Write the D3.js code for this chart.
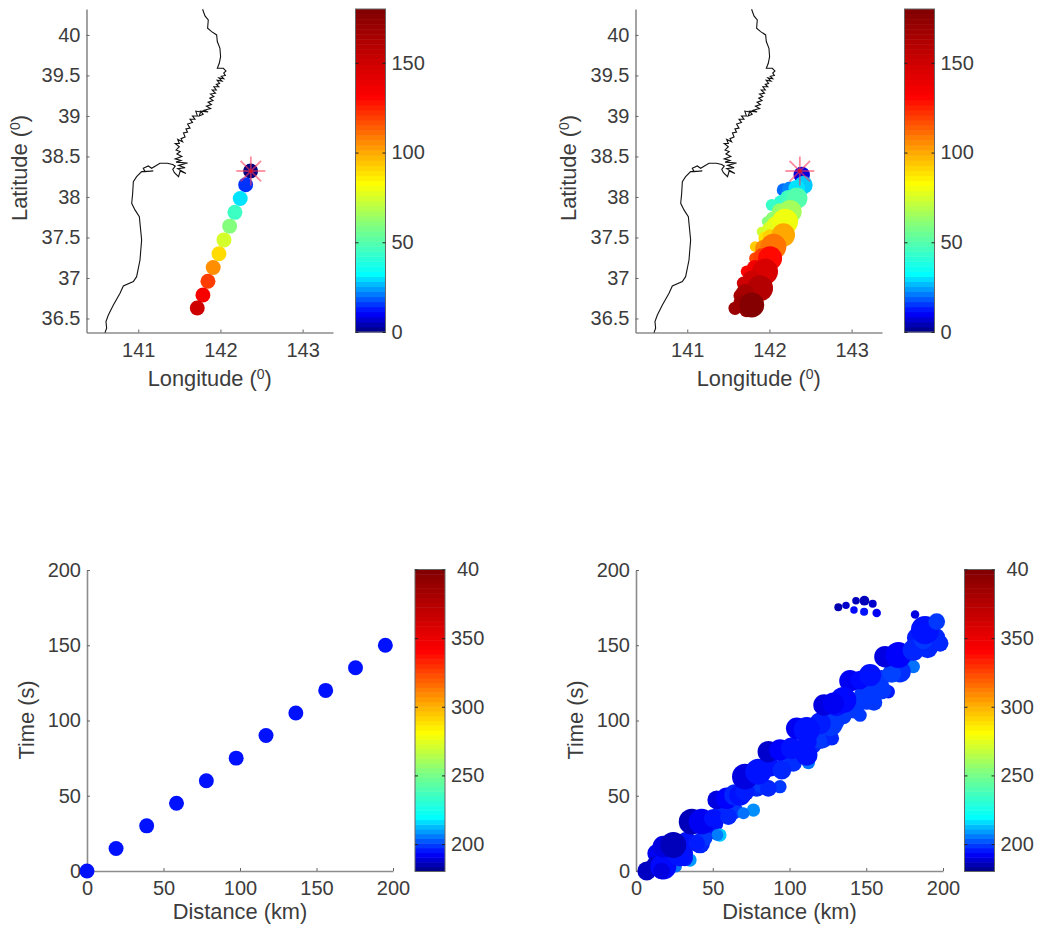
<!DOCTYPE html>
<html>
<head>
<meta charset="utf-8">
<script src="https://cdn.jsdelivr.net/npm/d3@7"></script>
<style>
  html, body { margin: 0; background: #fff; }
  text { font-family: "Liberation Sans", sans-serif; font-size: 20px; fill: #3c3c3c; }
  text.title { font-size: 21.8px; }
</style>
</head>
<body>
<div id="chart"></div>
<script>
// Coastline, longitude and latitude
const coastLon = [141.783,141.812,141.852,141.844,141.893,141.954,141.962,141.994,142.002,141.986,141.962,142.035,142.067,142.04,142.06,142.01,142.04,141.98,142.02,141.96,141.99,141.95,141.98,141.92,141.95,141.90,141.94,141.88,141.92,141.87,141.91,141.85,141.89,141.83,141.88,141.80,141.85,141.76,141.79,141.74,141.76,141.70,141.72,141.66,141.69,141.63,141.66,141.60,141.63,141.58,141.60,141.55,141.57,141.52,141.54,141.48,141.50,141.45,141.50,141.46,141.51,141.47,141.53,141.45,141.52,141.46,141.60,141.49,141.57,141.48,141.58,141.51,141.49,141.44,141.42,141.45,141.42,141.353,141.264,141.163,141.122,141.061,141.082,141.183,141.041,140.980,140.940,140.932,140.920,140.960,141.013,141.041,141.021,140.980,140.940,140.818,140.778,140.697,140.636,140.607,140.615,140.595];
const coastLat = [40.317,40.234,40.185,40.082,40.041,40.000,39.918,39.835,39.732,39.650,39.588,39.588,39.555,39.53,39.50,39.49,39.46,39.47,39.43,39.44,39.40,39.39,39.36,39.36,39.32,39.32,39.28,39.27,39.24,39.22,39.19,39.17,39.14,39.12,39.09,39.07,39.05,39.06,39.02,39.00,39.05,39.06,39.00,39.00,38.96,38.96,38.92,38.90,38.85,38.84,38.80,38.79,38.74,38.72,38.68,38.71,38.66,38.66,38.62,38.58,38.56,38.53,38.50,38.47,38.45,38.43,38.42,38.39,38.36,38.35,38.29,38.32,38.25,38.30,38.34,38.38,38.40,38.416,38.416,38.354,38.383,38.354,38.313,38.321,38.313,38.251,38.189,38.045,37.922,37.840,37.757,37.469,37.222,37.016,36.955,36.901,36.811,36.667,36.543,36.461,36.379,36.325];

// Epicentre
const starLon = 142.37;
const starLat = 38.32;

// Input model: top left and bottom left panels
const inLon = [142.367,142.307,142.241,142.176,142.112,142.043,141.982,141.912,141.848,141.787,141.718];
const inLat = [38.32,38.15,37.98,37.81,37.64,37.47,37.30,37.13,36.96,36.79,36.63];
const inTime = [0,15,30,45,60,75,90,105,120,135,150];
const inDist = [0,19,39,58.5,78,97.5,117,136.5,156,175.5,195];
const inDepth = [195,195,195,195,195,195,195,195,195,195,195];
const inSize = 28;

// Inverted model: top right panel
const mapLon = [142.373,142.393,142.170,142.414,142.028,142.333,141.968,142.251,141.907,142.191,141.947,141.826,142.170,142.049,141.826,142.008,141.724,141.947,141.684,141.886,141.643,141.582,141.724,141.785,142.251,142.333,142.150,142.231,142.049,142.130,142.008,142.069,142.008,141.927,141.907,141.826,141.785,141.704,141.663];
const mapLat = [38.313,38.272,38.087,38.148,37.902,37.984,37.696,37.819,37.572,37.696,37.490,37.387,37.531,37.387,37.243,37.243,37.079,37.079,36.935,36.873,36.782,36.626,36.605,36.667,38.087,38.107,37.922,37.984,37.716,37.819,37.593,37.655,37.511,37.367,37.264,37.120,36.976,36.811,36.688];
const mapTime = [0,8,20,28,44,50,60,66,74,80,88,93,100,110,118,130,132,146,150,160,165,170,172,178,22,30,42,46,62,64,76,78,92,106,120,136,150,165,170];
const mapSize = [8,34,22,43,18,57,12.5,68,12.5,84,22,14,68,84,18,72,18,84,22,84,22,22,27,78,35,35,35,35,35,35,35,35,27,35,35,35,44,44,35];

// Inverted model: bottom right panel
const subDist = [22.2,13.5,33,41.7,47.1,50.4,56.9,63.4,78.6,81.9,87.3,98.2,104.7,113.4,121,124.2,142,135,155,130,150,160,175,190,195,183,26,35.2,31.9,7,12.4,17.8,16.7,17.8,28.7,24.3,54.7,53,45,39.5,36.3,42.8,50.4,60.2,76.5,70,52.6,59.1,64.5,67.8,93.8,86.2,71,71,79.7,112.3,102.5,95,86.2,93.8,101.4,111.2,127.5,119.9,112.3,126.4,119.9,104.7,111.2,122.5,130.7,146,164.4,160.1,150.3,139.4,145.9,152.5,135.1,128.6,180.7,172,166.6,162.2,170.9,180.7,198.1,187.2,188.3,195.9,181.8,131.8,136.8,143.3,148.8,154.2,142,148.6,156.8];
const subTime = [7.3,11.7,19.5,18.4,27.2,31.7,40.5,40.5,56,57.1,69.3,71.5,78.2,84.8,89.2,98.1,108,103,112,100,122,128,138,148,155,155,3,7.3,8.4,0,4,2.9,0,16.2,11.7,17.3,23.9,23.9,21.7,18.4,32.8,32.8,35,36.1,40.5,38.3,47.2,48.3,50.5,50.5,56,54.9,52.7,62.7,66,72,71.5,67.1,79.3,80.4,81.5,77.1,88.2,86,85.9,98.1,98.1,94.8,93.7,110.3,110.3,103.5,119.1,120.3,115.8,126.4,126.9,130.2,113.6,111.4,135.8,132.4,131.3,142.4,143.5,146.8,151.3,153.5,160.1,165.7,170.5,175.2,176.5,179.6,179.6,177.6,173.4,172.3,171.4];
const subDepth = [195,192,195,197,196,195,197,199,197,199,195,199,195,197,199,197,199,199,199,199,197,199,199,197,197,196,205,209,196,187,187,194,190,190,195,186,214,206,199,196,186,192,195,197,208,205,190,193,197,195,199,197,196,190,195,205,198,197,188,193,195,195,197,199,195,199,196,192,195,190,195,199,196,199,199,192,194,195,194,192,205,198,200,190,193,197,197,199,195,199,190,185,188,186,186,188,194,195,192];
const subSize = [50,44,50,50,50,50,44,44,50,35,50,44,50,68,68,50,50,35,35,44,50,35,44,50,50,50,18,22,32,44,38,84,35,58,84,84,22,18,27,35,84,84,44,35,22,18,44,58,58,58,22,35,44,84,84,22,35,44,58,58,58,58,27,27,35,84,58,58,84,58,62,22,22,44,84,58,44,62,84,58,22,58,44,58,84,58,35,44,100,35,9,8,7,7,12,8,7,8,9];

// Tick values and labels
const lonTicks = [141,142,143];
const latTicks = [36.5,37,37.5,38,38.5,39,39.5,40];
const distTicks = [0,50,100,150,200];
const timeBarTicks = [0,50,100,150];
const depthBarTicks = [200,250,300,350,400];

// Colormap stops, as a fraction of the colorbar
const mapStops = [0,0.06,0.18,0.33,0.46,0.56,0.73,1];
const mapColors = ["#000080","#0000ff","#00ffff","#80ff80","#ffff00","#ffa500","#ff0000","#800000"];
const bandCount = 64;

const jet = d3.scaleLinear().domain(mapStops).range(mapColors);
const rScale = d3.scaleSqrt().domain([0,100]).range([0,14.14]);

const svg = d3.select("#chart")
    .append("svg")
    .attr("width", 1040)
    .attr("height", 928)
    .style("display", "block");

// Shared look of the axes
function styleAxis(g) {
  g.selectAll(".domain").attr("stroke", "#8c8c8c").attr("stroke-width", 1.6);
  g.selectAll(".tick line").attr("stroke", "#666");
  g.selectAll("text").attr("font-size", null).attr("font-family", null);
}

function drawAxes(x, y, xTicks, yTicks, bottom, left) {
  svg.append("g")
    .attr("transform", `translate(0,${bottom})`)
    .call(d3.axisBottom(x).tickValues(xTicks).tickFormat(d3.format("d")).tickSize(-3).tickSizeOuter(0).tickPadding(10))
    .call(styleAxis);
  svg.append("g")
    .attr("transform", `translate(${left},0)`)
    .call(d3.axisLeft(y).tickValues(yTicks).tickFormat(d => d).tickSize(-3).tickSizeOuter(0).tickPadding(6))
    .call(styleAxis);
}

// Axis title with a raised 0 inside the brackets
function degreeLabel(sel, name) {
  sel.append("tspan").text(name + " (");
  sel.append("tspan").text("0").attr("dy", -7).style("font-size", "14px");
  sel.append("tspan").text(")").attr("dy", 7);
}

function drawColorbar(x0, x1, y0, y1, domain, ticks, label) {
  const y = d3.scaleLinear().domain(domain).range([y1, y0]);
  const step = (domain[1] - domain[0]) / bandCount;
  svg.append("g").selectAll("rect")
    .data(d3.range(bandCount))
    .join("rect")
    .attr("x", x0)
    .attr("width", x1 - x0)
    .attr("y", i => y(domain[0] + (i + 1) * step))
    .attr("height", (y1 - y0) / bandCount + 0.5)
    .attr("fill", i => jet((i + 0.5) / bandCount));
  svg.append("rect")
    .attr("x", x0).attr("y", y0)
    .attr("width", x1 - x0).attr("height", y1 - y0)
    .attr("fill", "none").attr("stroke", "#666");
  const right = svg.append("g")
    .attr("transform", `translate(${x1},0)`)
    .call(d3.axisRight(y).tickValues(ticks).tickFormat(label).tickSize(-3).tickSizeOuter(0).tickPadding(6))
    .call(styleAxis);
  right.select(".domain").remove();
  right.selectAll(".tick line").attr("stroke", "#222");
  // the top label of the depth bar is cut short and sits further in
  right.selectAll("text").filter(d => d === 400).attr("dx", 6);
  const leftTicks = svg.append("g")
    .attr("transform", `translate(${x0},0)`)
    .call(d3.axisLeft(y).tickValues(ticks).tickFormat("").tickSize(-3).tickSizeOuter(0));
  leftTicks.select(".domain").remove();
  leftTicks.selectAll(".tick line").attr("stroke", "#222");
}

function drawMap(left, right, barX, lon, lat, time, size) {
  const x = d3.scaleLinear().domain([140.37,143.37]).range([left, right]);
  const y = d3.scaleLinear().domain([36.327,40.32]).range([332.5, 9]);

  drawAxes(x, y, lonTicks, latTicks, 332.5, left);

  svg.append("path")
    .datum(d3.range(coastLon.length))
    .attr("fill", "none")
    .attr("stroke", "#111")
    .attr("stroke-width", 1.1)
    .attr("d", d3.line().x(i => x(coastLon[i])).y(i => y(coastLat[i])));

  // later subevents are drawn on top
  const order = d3.range(lon.length).sort((a, b) => time[a] - time[b]);
  svg.append("g").selectAll("circle")
    .data(order)
    .join("circle")
    .attr("cx", i => x(lon[i]))
    .attr("cy", i => y(lat[i]))
    .attr("r", i => rScale(size[i]))
    .attr("fill", i => jet(time[i] / 180));

  // Epicentre star
  const star = svg.append("g").attr("transform", `translate(${x(starLon)},${y(starLat)})`);
  star.selectAll("line")
    .data(d3.range(8))
    .join("line")
    .attr("x2", i => 14.5 * Math.cos(i * Math.PI / 4))
    .attr("y2", i => 14.5 * Math.sin(i * Math.PI / 4))
    .attr("stroke", "#ff3c5a")
    .attr("stroke-opacity", 0.6)
    .attr("stroke-width", 1.8);
  star.append("circle").attr("r", 2).attr("fill", "#d0102c");

  svg.append("text")
    .attr("class", "title")
    .attr("text-anchor", "middle")
    .attr("x", (left + right) / 2)
    .attr("y", 386)
    .call(degreeLabel, "Longitude");

  svg.append("text")
    .attr("class", "title")
    .attr("text-anchor", "middle")
    .attr("transform", `translate(${left - 60},168) rotate(-90)`)
    .call(degreeLabel, "Latitude");

  drawColorbar(barX, barX + 30, 9, 332, [0,180], timeBarTicks, d => d);
}

function drawTimeDist(left, right, barX, dist, time, depth, size) {
  const x = d3.scaleLinear().domain([0,200]).range([left, right]);
  const y = d3.scaleLinear().domain([0,200]).range([871, 570]);

  drawAxes(x, y, distTicks, distTicks, 871, left);

  svg.append("g").selectAll("circle")
    .data(d3.range(dist.length))
    .join("circle")
    .attr("cx", i => x(dist[i]))
    .attr("cy", i => y(time[i]))
    .attr("r", i => rScale(Array.isArray(size) ? size[i] : size))
    .attr("fill", i => jet((depth[i] - 180) / 220));

  svg.append("text")
    .attr("class", "title")
    .attr("text-anchor", "middle")
    .attr("x", (left + right) / 2)
    .attr("y", 919)
    .text("Distance (km)");

  svg.append("text")
    .attr("class", "title")
    .attr("text-anchor", "middle")
    .attr("transform", `translate(${left - 53},720) rotate(-90)`)
    .text("Time (s)");

  drawColorbar(barX, barX + 30, 569.5, 871.5, [180,400], depthBarTicks, d => d === 400 ? "40" : d);
}

drawMap(86.5, 333, 355.5, inLon, inLat, inTime, inLon.map(() => inSize));
drawMap(635.5, 882, 904.5, mapLon, mapLat, mapTime, mapSize);
drawTimeDist(87, 393, 415, inDist, inTime, inDepth, inSize);
drawTimeDist(636, 943, 964.5, subDist, subTime, subDepth, subSize);
</script>
</body>
</html>
